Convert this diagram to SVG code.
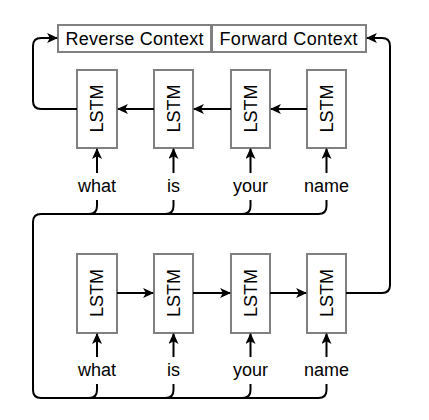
<svg xmlns="http://www.w3.org/2000/svg" width="429" height="420" viewBox="0 0 429 420">
<defs>
<marker id="ah" viewBox="0 0 10 10" refX="9" refY="5" markerWidth="5.5" markerHeight="5" orient="auto" markerUnits="strokeWidth" preserveAspectRatio="none">
<path d="M0,0 L10,5 L0,10 L2.5,5 Z" fill="#000"/>
</marker>
<style>
.box{fill:#fff;stroke:#808080;stroke-width:2}
.t{font-family:"Liberation Sans",Arial,sans-serif;font-size:18px;fill:#000;text-anchor:middle}
.c{fill:none;stroke:#000;stroke-width:2}
.a{marker-end:url(#ah)}
</style>
</defs>
<rect width="429" height="420" fill="#fff"/>
<g id="reverse-context"><rect class="box" x="58" y="25" width="153" height="27"/><text class="t" x="134.5" y="44.5" textLength="138">Reverse Context</text></g>
<g id="forward-context"><rect class="box" x="212" y="25" width="154" height="27"/><text class="t" x="288.5" y="44.5" textLength="138">Forward Context</text></g>
<g id="top-lstm-1"><rect class="box" x="77" y="70" width="40" height="78"/><text class="t" transform="translate(103,108.5) rotate(-90)">LSTM</text></g>
<g id="top-lstm-2"><rect class="box" x="154" y="70" width="39" height="78"/><text class="t" transform="translate(179.5,108.5) rotate(-90)">LSTM</text></g>
<g id="top-lstm-3"><rect class="box" x="231" y="70" width="39" height="78"/><text class="t" transform="translate(256.5,108.5) rotate(-90)">LSTM</text></g>
<g id="top-lstm-4"><rect class="box" x="307" y="70" width="39" height="78"/><text class="t" transform="translate(332.5,108.5) rotate(-90)">LSTM</text></g>
<g id="bot-lstm-1"><rect class="box" x="77" y="254" width="40" height="79"/><text class="t" transform="translate(103,293) rotate(-90)">LSTM</text></g>
<g id="bot-lstm-2"><rect class="box" x="154" y="254" width="39" height="79"/><text class="t" transform="translate(179.5,293) rotate(-90)">LSTM</text></g>
<g id="bot-lstm-3"><rect class="box" x="231" y="254" width="39" height="79"/><text class="t" transform="translate(256.5,293) rotate(-90)">LSTM</text></g>
<g id="bot-lstm-4"><rect class="box" x="307" y="254" width="39" height="79"/><text class="t" transform="translate(332.5,293) rotate(-90)">LSTM</text></g>
<g id="top-words">
<text class="t" x="97" y="192">what</text>
<text class="t" x="173.5" y="192">is</text>
<text class="t" x="250.5" y="192">your</text>
<text class="t" x="326.5" y="192">name</text>
</g>
<g id="bot-words">
<text class="t" x="97" y="376">what</text>
<text class="t" x="173.5" y="376">is</text>
<text class="t" x="250.5" y="376">your</text>
<text class="t" x="326.5" y="376">name</text>
</g>
<g id="connectors">
<path class="c a" d="M307,109 H271"/>
<path class="c a" d="M231,109 H194"/>
<path class="c a" d="M154,109 H118"/>
<path class="c a" d="M117,293 H153"/>
<path class="c a" d="M193,293 H230"/>
<path class="c a" d="M270,293 H306"/>
<path class="c a" d="M77,109 H41 Q33,109 33,101 V46 Q33,38 41,38 H57"/>
<path class="c a" d="M346,293 H382 Q390,293 390,285 V46 Q390,38 382,38 H367"/>
<path class="c a" d="M97,173 V149"/>
<path class="c a" d="M173.5,173 V149"/>
<path class="c a" d="M250.5,173 V149"/>
<path class="c a" d="M326.5,173 V149"/>
<path class="c a" d="M97,357 V334"/>
<path class="c a" d="M173.5,357 V334"/>
<path class="c a" d="M250.5,357 V334"/>
<path class="c a" d="M326.5,357 V334"/>
<path class="c" d="M326.5,200 V206 Q326.5,214 318.5,214 H41 Q33,214 33,222 V390 Q33,398 41,398 H318.5 Q326.5,398 326.5,390 V384"/>
<path class="c" d="M97,200 V206 Q97,214 89,214"/>
<path class="c" d="M173.5,200 V206 Q173.5,214 165.5,214"/>
<path class="c" d="M250.5,200 V206 Q250.5,214 242.5,214"/>
<path class="c" d="M97,384 V390 Q97,398 89,398"/>
<path class="c" d="M173.5,384 V390 Q173.5,398 165.5,398"/>
<path class="c" d="M250.5,384 V390 Q250.5,398 242.5,398"/>
</g>
</svg>
